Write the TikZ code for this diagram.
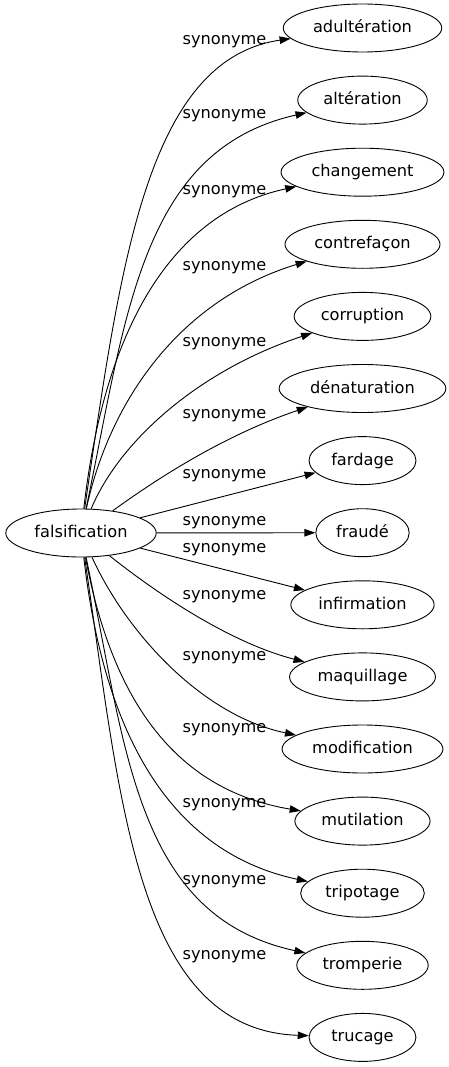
\documentclass[tikz,border=0pt]{standalone}
\usepackage{fontspec}
\setmainfont{DejaVu Sans}
\usepackage{tikz}
\usetikzlibrary{arrows.meta,shapes,positioning}
\tikzset{
    word/.style={draw, ellipse, line width=0.9pt, minimum height=48pt, inner xsep=6.6pt, inner ysep=0pt, text height=12.5pt, text depth=3.5pt, font=\fontsize{16.2pt}{19pt}\selectfont},
    syn/.style={-{Triangle[length=11pt, width=7.5pt]}, line width=0.9pt},
    lbl/.style={inner sep=0pt, font=\fontsize{16.2pt}{19pt}\selectfont}
}

\begin{document}
\begin{tikzpicture}[x=1pt, y=-1pt, node distance=23.2pt]
    \useasboundingbox (0,0) rectangle (449,1067);
    \node[word] (fal) at (81,533) {falsification};
    % column of synonyms
    \node[word] (adu) at (362.5,28) {adultération};
    \node[word, below=of adu] (alt) {altération};
    \node[word, below=of alt] (cha) {changement};
    \node[word, below=of cha] (con) {contrefaçon};
    \node[word, below=of con] (cor) {corruption};
    \node[word, below=of cor] (den) {dénaturation};
    \node[word, below=of den] (far) {fardage};
    \node[word, below=of far] (fra) {fraudé};
    \node[word, below=of fra] (inf) {infirmation};
    \node[word, below=of inf] (maq) {maquillage};
    \node[word, below=of maq] (mod) {modification};
    \node[word, below=of mod] (mut) {mutilation};
    \node[word, below=of mut] (tri) {tripotage};
    \node[word, below=of tri] (tro) {tromperie};
    \node[word, below=of tro] (tru) {trucage};

    \draw[syn] (fal) .. controls (120,270) and (145,60) .. (adu);
    \draw[syn] (fal) .. controls (126,318) and (140,150) .. (alt);
    \draw[syn] (fal) .. controls (103,340) and (165,215) .. (cha);
    \draw[syn] (fal) .. controls (110,400) and (180,300) .. (con);
    \draw[syn] (fal) .. controls (120,440) and (200,370) .. (cor);
    \draw[syn] (fal) .. controls (135,495) and (210,440) .. (den);
    \draw[syn] (fal) -- (far);
    \draw[syn] (fal) -- (fra);
    \draw[syn] (fal) -- (inf);
    \draw[syn] (fal) .. controls (140,580) and (220,640) .. (maq);
    \draw[syn] (fal) .. controls (125,630) and (200,715) .. (mod);
    \draw[syn] (fal) .. controls (112,700) and (175,790) .. (mut);
    \draw[syn] (fal) .. controls (103,726) and (165,851) .. (tri);
    \draw[syn] (fal) .. controls (126,748) and (135,916) .. (tro);
    \draw[syn] (fal) .. controls (120,796) and (135,1030) .. (tru);

    % edge labels
    \node[lbl] (sadu) at (224.5,42) {synonyme};
    \node[lbl] (salt) at (224.5,116) {synonyme};
    \node[lbl] (scha) at (224.5,192) {synonyme};
    \node[lbl] (scon) at (224.5,268) {synonyme};
    \node[lbl] (scor) at (224.5,344) {synonyme};
    \node[lbl] (sden) at (224.5,416) {synonyme};
    \node[lbl] (sfar) at (224.5,476) {synonyme};
    \node[lbl] (sfra) at (224.5,523) {synonyme};
    \node[lbl] (sinf) at (224.5,550) {synonyme};
    \node[lbl] (smaq) at (224.5,597) {synonyme};
    \node[lbl] (smod) at (224.5,658) {synonyme};
    \node[lbl] (smut) at (224.5,730) {synonyme};
    \node[lbl] (stri) at (224.5,805) {synonyme};
    \node[lbl] (stro) at (224.5,882) {synonyme};
    \node[lbl] (stru) at (224.5,957) {synonyme};
\end{tikzpicture}
\end{document}
